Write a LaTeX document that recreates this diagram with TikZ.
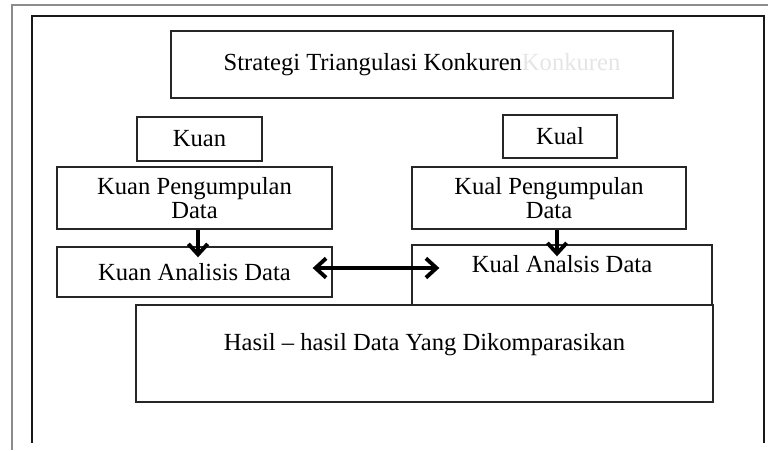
\documentclass[tikz,border=0pt]{standalone}
\usepackage{fontspec}
\setmainfont{Liberation Serif}
\usetikzlibrary{arrows.meta}

\begin{document}
\begin{tikzpicture}[
  x=0.02cm, y=-0.02cm,
  font=\fontsize{14}{13.5}\selectfont,
  box/.style={rectangle, draw=black!85, line width=0.8pt, inner sep=0pt, align=center},
  flow/.style={-{Straight Barb[length=6pt, width=11pt, line width=2.2pt]}, line width=2.2pt},
  both/.style={{Straight Barb[length=6pt, width=11pt, line width=2.2pt]}-{Straight Barb[length=6pt, width=11pt, line width=2.2pt]}, line width=2.2pt},
]
\useasboundingbox (0,0) rectangle (768,450);
\draw[black!45, line width=1.2pt] (12,450) -- (12,5) -- (768,5);
\draw[black!90, line width=1pt] (32,443) -- (32,16) -- (764,16) -- (764,443);

\node[box, minimum width=10.04cm, minimum height=1.34cm] (title) at (422,64.5) {Strategi Triangulasi Konkuren\textcolor{black!10}{Konkuren}};

\node[box, minimum width=2.5cm, minimum height=0.88cm] (kuan) at (199.5,139) {Kuan};
\node[box, minimum width=5.5cm, minimum height=1.24cm] (kuanpeng) at (194.5,198) {Kuan Pengumpulan\\Data};
\node[box, minimum width=5.5cm, minimum height=1.0cm] (kuananl) at (194.5,272) {Kuan Analisis Data};

\node[box, minimum width=2.28cm, minimum height=0.86cm] (kual) at (560,136.5) {Kual};
\node[box, minimum width=5.48cm, minimum height=1.24cm] (kualpeng) at (549,198) {Kual Pengumpulan\\Data};
\node[box, minimum width=6.0cm, minimum height=1.2cm, text height=9.5pt, text depth=11.8pt] (kualanl) at (562,275) {Kual Analsis Data};

\node[box, minimum width=11.54cm, minimum height=1.94cm, text height=9.5pt, text depth=12.9pt] (hasil) at (424.5,353.5) {Hasil -- hasil Data Yang Dikomparasikan};

\draw[flow, shorten >=-0.22cm] ([xshift=0.07cm]kuanpeng.south) -- ([xshift=0.07cm]kuanpeng.south |- kuananl.north);
\draw[flow, shorten >=-0.24cm] ([xshift=0.16cm]kualpeng.south) -- ([xshift=0.16cm]kualpeng.south |- kualanl.north);
\draw[both, shorten <=-0.4cm, shorten >=-0.56cm] ([yshift=0.08cm]kuananl.east) -- ([yshift=0.08cm]kuananl.east -| kualanl.west);
\end{tikzpicture}
\end{document}
